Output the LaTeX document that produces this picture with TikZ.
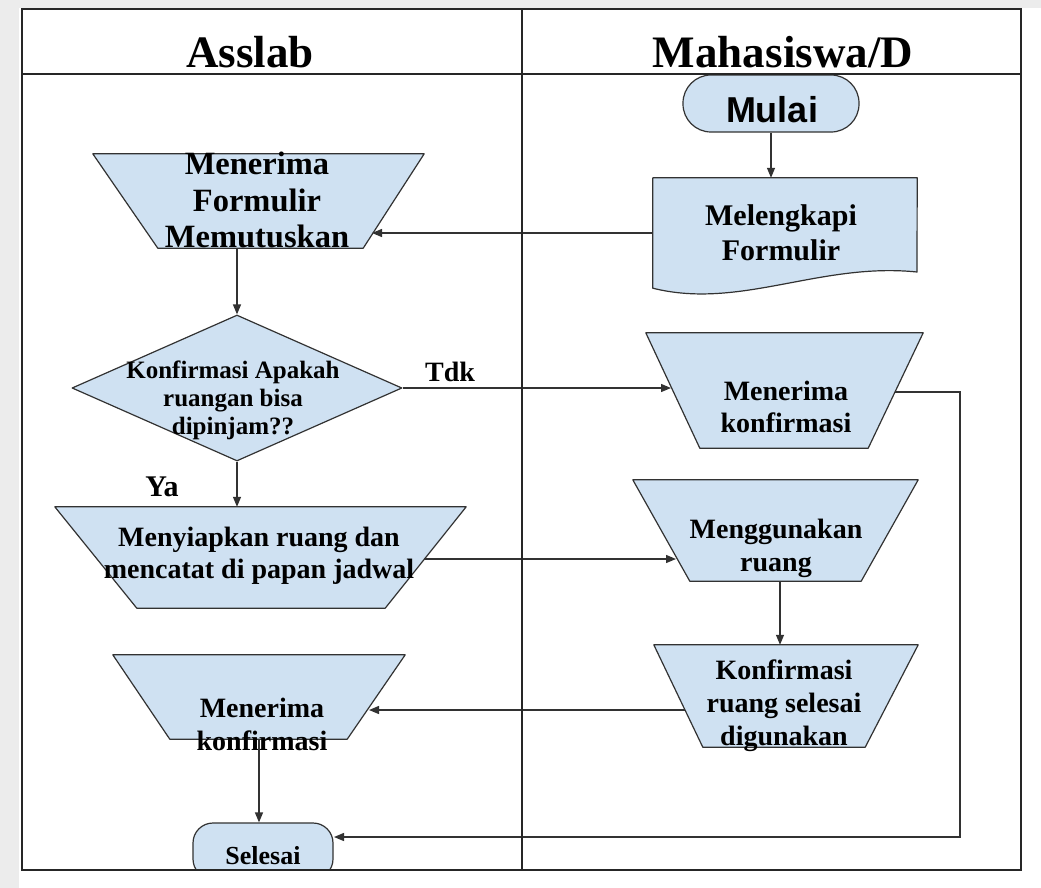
\documentclass[tikz,border=0pt]{standalone}
\usepackage{fontspec}
\setmainfont{Liberation Serif}
\setsansfont{Liberation Sans}
\usetikzlibrary{shapes.geometric,arrows.meta}
\definecolor{boxfill}{RGB}{207,225,242}
\definecolor{edgegray}{RGB}{50,50,50}
\definecolor{pagegray}{RGB}{236,236,236}
% trapezoid outline around an empty geometry node: #1 node, #2 left inset, #3 right inset
\newcommand{\trapbox}[3]{%
  \draw[shapeline] (#1.north west) -- (#1.north east) -- ([xshift=-#3pt]#1.south east)
    -- ([xshift=#2pt]#1.south west) -- cycle;}
\begin{document}
\begin{tikzpicture}[x=1pt,y=-1pt,
  shapeline/.style={draw=edgegray,fill=boxfill,line width=1.2pt,line join=round},
  geom/.style={rectangle,inner sep=0pt,minimum width=#1},
  lbl/.style={font=\fontsize{28}{35}\selectfont\bfseries,align=center,inner sep=0pt},
  small/.style={font=\fontsize{25}{28}\selectfont\bfseries,align=center,inner sep=0pt},
  head/.style={font=\fontsize{45}{50}\selectfont\bfseries,inner sep=0pt},
  conn/.style={draw=edgegray,line width=1.3pt,-{Triangle[length=10pt,width=8pt]}},
  frame/.style={draw=black!85,line width=2pt}]

% page surround
\useasboundingbox (0,0) rectangle (1041,888);
\fill[white] (0,0) rectangle (1041,888);
\fill[pagegray] (0,0) rectangle (1041,8);
\fill[pagegray] (0,0) rectangle (19,888);

\begin{scope}
\clip (22,9) rectangle (1021,870);

% ---- Mahasiswa column ----
\node[shapeline,rectangle,rounded corners=28pt,minimum width=176pt,minimum height=57pt,inner sep=0pt] (start) at (771,103.5) {};
\node[font=\fontsize{36}{40}\selectfont\sffamily\bfseries,inner sep=0pt] (start-t) at (772,110) {Mulai};

\node[geom=264pt,minimum height=110pt] (mel) at (785,233) {};
\draw[shapeline] (mel.north west) -- (mel.north east) -- (917,272)
  .. controls (820,262) and (740,310) .. (mel.south west) -- cycle;
\node[lbl,font=\fontsize{30}{35}\selectfont\bfseries] (mel-t) at (781,232.5) {Melengkapi\\Formulir};

\node[geom=277pt,minimum height=115pt] (rk) at (784.5,390.5) {};
\trapbox{rk}{54}{55}
\node[lbl,font=\fontsize{28}{32}\selectfont\bfseries] (rk-t) at (786,407) {Menerima\\konfirmasi};

\node[geom=285pt,minimum height=101pt] (mg) at (775.5,530.5) {};
\trapbox{mg}{57}{57}
\node[lbl,font=\fontsize{28}{33}\selectfont\bfseries] (mg-t) at (776,548) {Menggunakan\\ruang};

\node[geom=264pt,minimum height=102pt] (kf) at (786,696) {};
\trapbox{kf}{49}{53}
\node[lbl,font=\fontsize{28}{33}\selectfont\bfseries] (kf-t) at (784,706) {Konfirmasi\\ruang selesai\\digunakan};

% ---- Asslab column ----
\node[geom=331pt,minimum height=94pt] (mf) at (258.5,201) {};
\trapbox{mf}{65}{61}
\node[lbl,font=\fontsize{32.5}{36.5}\selectfont\bfseries] (mf-t) at (257,200) {Menerima\\Formulir\\Memutuskan};

\node[diamond,shapeline,minimum width=330pt,minimum height=146pt,inner sep=0pt] (dec) at (237,388) {};
\node[small] (dec-t) at (233,400) {Konfirmasi Apakah\\ruangan bisa\\dipinjam??};

\node[geom=411pt,minimum height=101pt] (ms) at (260.5,557.5) {};
\trapbox{ms}{82}{81}
\node[lbl,font=\fontsize{28}{32}\selectfont\bfseries] (ms-t) at (259,556) {Menyiapkan ruang dan\\mencatat di papan jadwal};

\node[geom=292pt,minimum height=84pt] (lk) at (259,697) {};
\trapbox{lk}{57}{58}
\node[lbl,font=\fontsize{28}{33}\selectfont\bfseries] (lk-t) at (262,724) {Menerima\\konfirmasi};

\node[shapeline,rectangle,rounded corners=20pt,minimum width=140pt,minimum height=56pt,inner sep=0pt] (sel) at (263,851) {};
\node[font=\fontsize{26}{30}\selectfont\bfseries,inner sep=0pt] (sel-t) at (263,856) {Selesai};

% branch labels
\node[font=\fontsize{28}{30}\selectfont\bfseries,inner sep=0pt] (tdk) at (450,372) {Tdk};
\node[font=\fontsize{30}{30}\selectfont\bfseries,inner sep=0pt] (ya) at (162,487) {Ya};

% connector end points on slanted sides
\coordinate (mf-in) at (372,233);
\coordinate (rk-in) at (671,388);
\coordinate (rk-out) at (895,392);
\coordinate (ms-out) at (424,559);
\coordinate (mg-in) at (676,559);
\coordinate (kf-out) at (685,710);
\coordinate (lk-in) at (369,710);
\coordinate (sel-in) at (334,837);
\coordinate (loop) at (960,392);

% ---- connectors ----
\draw[conn] (start.south) -- (start.south |- mel.north);
\draw[conn] (mel.west) -- (mf-in);
\draw[conn] (dec.north |- mf.south) -- (dec.north);
\draw[conn] (dec.east) -- (rk-in);
\draw[conn] (dec.south) -- (dec.south |- ms.north);
\draw[conn] (ms-out) -- (mg-in);
\draw[conn] ([xshift=4.5pt]mg.south) -- ([xshift=4.5pt]mg.south |- kf.north);
\draw[conn] (kf-out) -- (lk-in);
\draw[conn] (lk.south) -- (lk.south |- sel.north);
\draw[conn] (rk-out) -- (loop) |- (sel-in);
\end{scope}

% ---- swimlane frame and headers ----
\coordinate (tl) at (22,9);
\coordinate (br) at (1021,870);
\draw[frame] (tl) rectangle (br);
\draw[frame,line width=1.6pt] (22,74) -- (1021,74);
\draw[frame,line width=1.6pt] (522,9) -- (522,870);
\node[head] (h1) at (250,52) {Asslab};
\node[head] (h2) at (783,52) {Mahasiswa/D};
\end{tikzpicture}
\end{document}
